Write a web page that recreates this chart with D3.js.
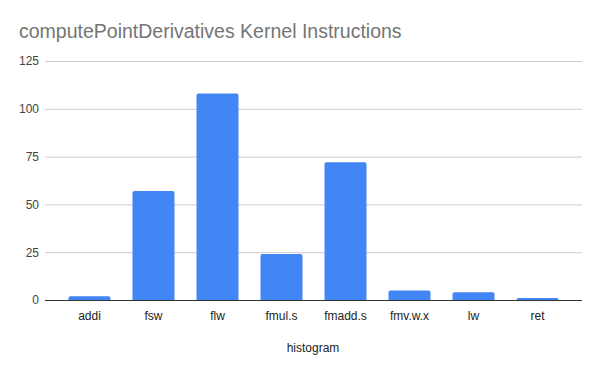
<!DOCTYPE html>
<html>
<head>
<meta charset="utf-8">
<script src="https://cdn.jsdelivr.net/npm/d3@7"></script>
<style>
  body { margin: 0; background: #fff; }
  svg text { font-family: "Liberation Sans", Arial, sans-serif; }
</style>
</head>
<body>
<svg id="chart" width="600" height="371"></svg>
<script>
// chart data
const categories = ["addi", "fsw", "flw", "fmul.s", "fmadd.s", "fmv.w.x", "lw", "ret"];
const counts = [2, 57, 108, 24, 72, 5, 4, 1];
const yTicks = [0, 25, 50, 75, 100, 125];

const svg = d3.select("#chart");
const plotLeft = 45, plotRight = 582;
const plotTop = 61, plotBottom = 300;

const x = d3.scaleBand()
    .domain(categories)
    .range([plotLeft, plotRight])
    .paddingInner(0.344)
    .paddingOuter(0.367);

const y = d3.scaleLinear()
    .domain([0, 125])
    .range([plotBottom, plotTop]);

// title
svg.append("text")
    .attr("x", 19)
    .attr("y", 38)
    .attr("fill", "#757575")
    .style("font-size", "19.5px")
    .text("computePointDerivatives Kernel Instructions");

// gridlines + y labels
const yAxis = d3.axisLeft(y)
    .tickValues(yTicks)
    .tickSize(-(plotRight - plotLeft))
    .tickPadding(6);

const gy = svg.append("g")
    .attr("transform", `translate(${plotLeft},0)`)
    .call(yAxis);
gy.select(".domain").remove();
gy.selectAll(".tick line").attr("stroke", "#cccccc");
gy.selectAll(".tick text")
    .attr("fill", "#444")
    .style("font-size", "12px");

// bars, rounded top corners
const r = 2;
svg.append("g")
    .selectAll("path")
    .data(categories)
    .enter()
    .append("path")
    .attr("fill", "#4285f4")
    .attr("d", (c, i) => {
        const x0 = x(c), w = x.bandwidth();
        const y0 = y(counts[i]), y1 = y(0);
        const rr = Math.min(r, (y1 - y0));
        return `M${x0},${y1} V${y0 + rr} Q${x0},${y0} ${x0 + rr},${y0} H${x0 + w - rr} Q${x0 + w},${y0} ${x0 + w},${y0 + rr} V${y1} Z`;
    });

// x axis
const gx = svg.append("g")
    .attr("transform", `translate(0,${y(0)})`)
    .call(d3.axisBottom(x).tickSize(0).tickPadding(11));
gx.select(".domain")
    .attr("stroke", "#333")
    .attr("d", `M${plotLeft},0.5H${plotRight}`);
gx.selectAll(".tick text")
    .attr("fill", "#222")
    .style("font-size", "12px");

// x axis title
svg.append("text")
    .attr("x", 313)
    .attr("y", 352)
    .attr("text-anchor", "middle")
    .attr("fill", "#222")
    .style("font-size", "12px")
    .text("histogram");
</script>
</body>
</html>
